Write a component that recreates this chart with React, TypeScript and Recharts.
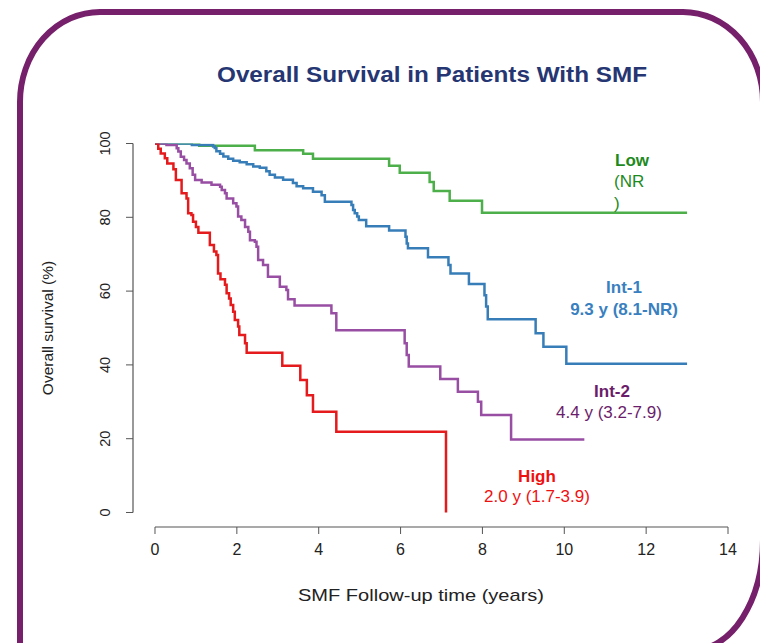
import { LineChart, Line, XAxis, YAxis, ReferenceLine } from 'recharts';

// Kaplan-Meier step curves (years, % surviving)
const lowTime = [0, 1.08, 2.44, 3.62, 3.86, 5.72, 5.98, 6.71, 6.81, 7.2, 7.99, 13.0];
const lowSurv = [100, 99.4, 98.2, 97.2, 95.9, 94.0, 92.1, 89.6, 87.1, 84.5, 81.2, 81.2];

const int1Time = [
  0, 0.9, 1.42, 1.46, 1.5, 1.59, 1.67, 1.79, 1.91, 2.07, 2.24, 2.4, 2.56, 2.72, 2.8, 2.93, 3.13,
  3.37, 3.46, 3.62, 3.86, 4.07, 4.15, 4.8, 4.84, 4.88, 4.94, 4.98, 5.16, 5.72, 6.12, 6.15, 6.18,
  6.67, 7.17, 7.22, 7.67, 8.05, 8.09, 8.13, 9.3, 9.49, 10.05, 13.0,
];
const int1Surv = [
  100, 99.6, 99.2, 98.8, 97.9, 97.2, 96.5, 95.9, 95.3, 94.9, 94.4, 93.8, 93.4, 92.5, 91.5, 90.8, 90.2,
  89.3, 88.4, 87.9, 86.9, 86.0, 84.2, 83.3, 82.0, 81.1, 80.2, 79.3, 77.6, 76.4, 74.7, 72.9, 71.6,
  69.2, 67.1, 64.8, 61.9, 58.9, 55.8, 52.4, 48.6, 44.9, 40.3, 40.3,
];

const int2Time = [
  0, 0.28, 0.53, 0.57, 0.63, 0.71, 0.77, 0.85, 0.92, 0.98, 1.14, 1.38, 1.59, 1.63, 1.71, 1.75, 1.91,
  1.99, 2.03, 2.11, 2.2, 2.28, 2.32, 2.44, 2.48, 2.52, 2.64, 2.76, 3.05, 3.21, 3.25, 3.41, 4.31,
  4.43, 6.1, 6.15, 6.2, 6.97, 7.4, 7.89, 7.97, 8.7, 10.49,
];
const int2Surv = [
  100, 99.6, 98.7, 97.8, 96.4, 95.5, 94.6, 93.3, 91.5, 90.1, 89.4, 88.8, 88.3, 87.4, 86.5, 85.1, 83.8,
  82.9, 80.2, 79.3, 77.4, 76.1, 73.8, 73.4, 72.0, 68.4, 67.1, 63.9, 61.2, 60.3, 57.8, 56.1, 54.0,
  49.4, 45.9, 42.7, 39.6, 36.2, 32.7, 30.0, 26.4, 19.8, 19.8,
];

const highTime = [
  0, 0.08, 0.14, 0.24, 0.3, 0.45, 0.51, 0.65, 0.77, 0.81, 0.89, 0.93, 1.0, 1.06, 1.34, 1.44, 1.5,
  1.54, 1.6, 1.71, 1.75, 1.81, 1.85, 1.91, 1.95, 2.03, 2.06, 2.2, 2.24, 3.11, 3.55, 3.71, 3.86,
  4.43, 7.11,
];
const highSurv = [
  100, 98.6, 97.3, 96.0, 94.6, 93.0, 90.1, 86.5, 85.1, 81.1, 80.6, 78.8, 77.4, 75.8, 72.5, 70.7, 69.8,
  64.8, 63.2, 61.7, 59.4, 58.0, 56.2, 54.4, 52.2, 50.4, 48.1, 45.9, 43.3, 39.8, 35.9, 31.8, 27.3,
  21.9, 0,
];

const xTicks = [0, 2, 4, 6, 8, 10, 12, 14];
const yTicks = [0, 20, 40, 60, 80, 100];
const X_MIN = -0.5375;
const Y_MIN = -3.93;

const toPoints = (time: number[], surv: number[]) => time.map((t, i) => ({ t, s: surv[i] }));

const FONT = '"Liberation Sans", Arial, Helvetica, sans-serif';
const AXIS = '#555';

function YTick({ x, y, payload }: any) {
  return (
    <text x={x} y={y} transform={`rotate(-90 ${x} ${y})`} textAnchor="middle" fontSize={14.5} fill="#222" fontFamily={FONT}>
      {payload.value}
    </text>
  );
}

export default function App() {
  return (
    <div style={{ position: 'absolute', left: 0, top: 0, width: 760, height: 643, background: '#fff', overflow: 'hidden' }}>
      <LineChart width={760} height={643} margin={{ top: 143.5, right: 32, left: 73, bottom: 86 }}>
        <XAxis
          type="number"
          dataKey="t"
          domain={[X_MIN, 14]}
          ticks={xTicks}
          allowDataOverflow
          axisLine={false}
          tickLine={{ stroke: AXIS }}
          tickSize={7}
          tickMargin={10}
          height={30}
          tick={{ fontSize: 16, fill: '#222', fontFamily: FONT }}
        />
        <YAxis
          type="number"
          domain={[Y_MIN, 100]}
          ticks={yTicks}
          allowDataOverflow
          axisLine={false}
          tickLine={{ stroke: AXIS }}
          tickSize={7}
          tickMargin={16}
          width={60}
          tick={<YTick />}
        />
        <ReferenceLine segment={[{ x: 0, y: Y_MIN }, { x: 14, y: Y_MIN }]} stroke={AXIS} strokeWidth={1.2} ifOverflow="visible" />
        <ReferenceLine segment={[{ x: X_MIN, y: 0 }, { x: X_MIN, y: 100 }]} stroke={AXIS} strokeWidth={1.2} ifOverflow="visible" />
        <Line data={toPoints(lowTime, lowSurv)} dataKey="s" type="stepAfter" stroke="#4daf4a" strokeWidth={2.5} dot={false} isAnimationActive={false} />
        <Line data={toPoints(int1Time, int1Surv)} dataKey="s" type="stepAfter" stroke="#377eb8" strokeWidth={2.5} dot={false} isAnimationActive={false} />
        <Line data={toPoints(int2Time, int2Surv)} dataKey="s" type="stepAfter" stroke="#984ea3" strokeWidth={2.5} dot={false} isAnimationActive={false} />
        <Line data={toPoints(highTime, highSurv)} dataKey="s" type="stepAfter" stroke="#e41a1c" strokeWidth={2.5} dot={false} isAnimationActive={false} />
      </LineChart>

      <svg width={760} height={643} style={{ position: 'absolute', left: 0, top: 0, pointerEvents: 'none' }} fontFamily={FONT}>
        <path
          d="M 100 12 H 683 A 80 90 0 0 1 763 102 V 540 A 70 110 0 0 1 693 650 M 20 700 V 102 A 80 90 0 0 1 100 12"
          fill="none"
          stroke="#76206b"
          strokeWidth={6}
        />
        <text x={432} y={82} textAnchor="middle" fontSize={22} fontWeight="bold" fill="#253673" textLength={430} lengthAdjust="spacingAndGlyphs">
          Overall Survival in Patients With SMF
        </text>
        <text x={53} y={328} transform="rotate(-90 53 328)" textAnchor="middle" fontSize={15.5} fill="#222">
          Overall survival (%)
        </text>
        <text x={421} y={601} textAnchor="middle" fontSize={17} fill="#222" textLength={246} lengthAdjust="spacingAndGlyphs">
          SMF Follow-up time (years)
        </text>

        <text x={615} y={166} fontSize={17} fontWeight="bold" fill="#1e8a1e">Low</text>
        <text x={614} y={187} fontSize={17} fill="#1e8a1e">(NR</text>
        <text x={614} y={209} fontSize={17} fill="#1e8a1e">)</text>

        <text x={624} y={293} textAnchor="middle" fontSize={17} fontWeight="bold" fill="#3a7fc0">Int-1</text>
        <text x={624} y={315} textAnchor="middle" fontSize={17} fontWeight="bold" fill="#3a7fc0">9.3 y (8.1-NR)</text>

        <text x={612} y={397} textAnchor="middle" fontSize={17} fontWeight="bold" fill="#6b1d6b">Int-2</text>
        <text x={609} y={418} textAnchor="middle" fontSize={17} fill="#6b1d6b">4.4 y (3.2-7.9)</text>

        <text x={537} y={482} textAnchor="middle" fontSize={17} fontWeight="bold" fill="#ee1111">High</text>
        <text x={537} y={502} textAnchor="middle" fontSize={17} fill="#ee1111">2.0 y (1.7-3.9)</text>
      </svg>
    </div>
  );
}
